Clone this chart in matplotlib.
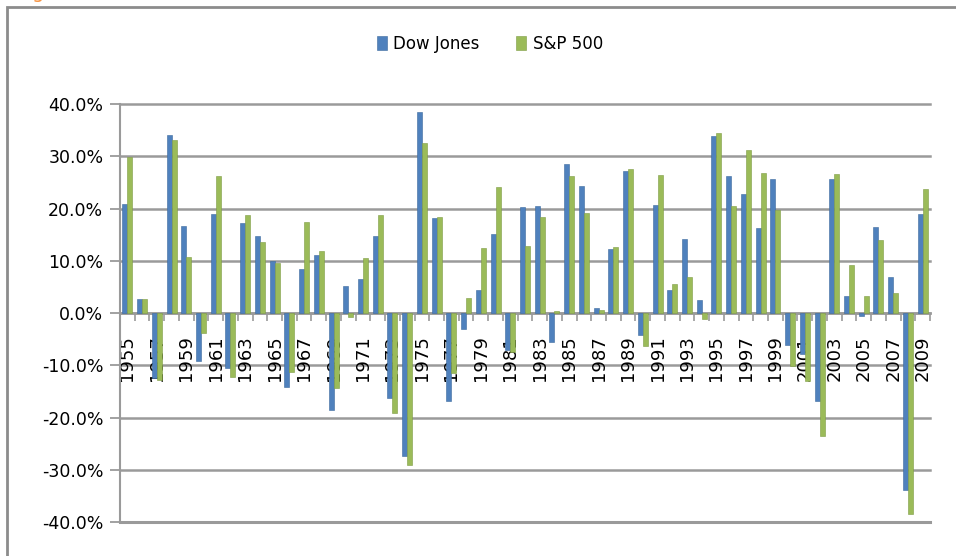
import numpy as np
import matplotlib.pyplot as plt
from matplotlib.patches import Rectangle

# annual returns, percent
years = list(range(1955, 2010))
dow = [20.9, 2.6, -12.5, 34.0, 16.6, -9.1, 18.9, -10.6, 17.3, 14.7,
       9.9, -14.1, 8.4, 11.1, -18.5, 5.1, 6.5, 14.7, -16.3, -27.3,
       38.5, 18.2, -16.9, -3.0, 4.4, 15.1, -7.1, 20.2, 20.5, -5.6,
       28.5, 24.4, 1.0, 12.2, 27.2, -4.2, 20.6, 4.4, 14.1, 2.5,
       33.9, 26.2, 22.8, 16.3, 25.6, -6.1, -7.9, -16.8, 25.7, 3.3,
       -0.5, 16.4, 6.8, -33.9, 19.0]
sp500 = [29.8, 2.6, -12.8, 33.1, 10.8, -3.8, 26.3, -12.3, 18.7, 13.5,
         9.5, -11.2, 17.5, 11.9, -14.4, -0.8, 10.5, 18.7, -19.2, -29.0,
         32.5, 18.4, -11.5, 2.9, 12.4, 24.1, -7.4, 12.9, 18.4, 0.3,
         26.3, 19.1, 0.5, 12.7, 27.5, -6.3, 26.4, 5.6, 6.9, -1.2,
         34.4, 20.5, 31.2, 26.8, 19.8, -10.1, -13.0, -23.5, 26.6, 9.2,
         3.3, 13.9, 3.8, -38.4, 23.7]
yticks = [-40, -30, -20, -10, 0, 10, 20, 30, 40]

BLUE = "#4F81BD"
GREEN = "#9BBB59"
GRID = "#9A9A9A"

fig = plt.figure(figsize=(9.56, 5.56), dpi=100)
ax = fig.add_axes([120 / 956, 1 - 522 / 556, 810 / 956, 418 / 556])

# outer chart frame
fig.patches.append(Rectangle((7 / 956, -0.1), 1.2, 1 - 7 / 556 + 0.1,
                             transform=fig.transFigure, fill=False,
                             edgecolor="#8C8C8C", lw=2))
# page heading above the chart, only its descender is in view
fig.text(38 / 956, 1.004, "g", color="#F79646", fontsize=14,
         ha="center", va="baseline")

x = np.arange(len(years))
w = 0.34
ax.bar(x - w / 2, dow, w, color=BLUE, edgecolor="#3C6A9E", lw=0.4,
       label="Dow Jones", zorder=3)
ax.bar(x + w / 2, sp500, w, color=GREEN, edgecolor="#7E9C44", lw=0.4,
       label="S&P 500", zorder=3)

ax.set_xlim(-0.5, len(years) - 0.5)
ax.set_ylim(-40, 40)

for v in yticks:
    ax.axhline(v, color=GRID, lw=2.2 if v == -40 else 1.8,
               zorder=1, clip_on=False)

ax.set_yticks(yticks)
ax.set_yticklabels([f"{v:.1f}%" for v in yticks], fontsize=12.5)
ax.tick_params(axis="y", length=7, width=1.3, color=GRID, pad=5)

# category axis sits on the zero line
ax.spines["bottom"].set_position(("data", 0))
ax.spines["bottom"].set_color(GRID)
ax.spines["bottom"].set_linewidth(1.8)
ax.set_xticks(x[::2])
ax.set_xticklabels([str(y) for y in years[::2]], rotation=90,
                   fontsize=13, va="top")
ax.set_xticks(np.arange(len(years) + 1) - 0.5, minor=True)
ax.tick_params(axis="x", which="major", length=0, pad=16)
ax.tick_params(axis="x", which="minor", length=6, width=1.2, color=GRID)

ax.spines["left"].set_color(GRID)
ax.spines["left"].set_linewidth(1.5)
for s in ("top", "right"):
    ax.spines[s].set_visible(False)

ax.legend(loc="center", bbox_to_anchor=(490 / 956, 1 - 44 / 556),
          bbox_transform=fig.transFigure, ncol=2, frameon=False,
          fontsize=12, handlelength=0.6, handleheight=0.9,
          handletextpad=0.4, columnspacing=2.2)

fig.savefig("out.png", dpi=100)
